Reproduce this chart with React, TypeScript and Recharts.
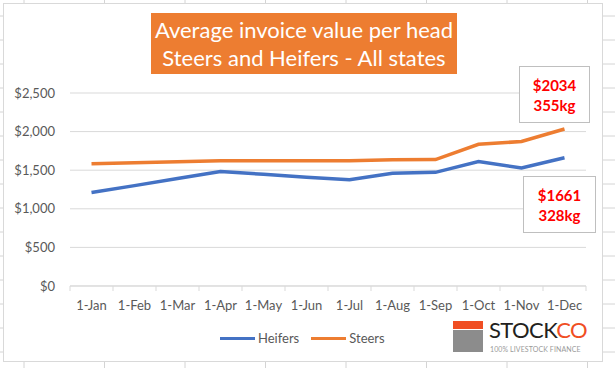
import { LineChart, Line, XAxis, YAxis, CartesianGrid } from 'recharts';

const months = ['1-Jan', '1-Feb', '1-Mar', '1-Apr', '1-May', '1-Jun', '1-Jul', '1-Aug', '1-Sep', '1-Oct', '1-Nov', '1-Dec'];
const heifers = [1211, 1300, 1392, 1483, 1446, 1410, 1376, 1460, 1472, 1612, 1530, 1661];
const steers = [1585, 1598, 1610, 1622, 1622, 1622, 1622, 1635, 1637, 1835, 1872, 2034];
const yTicks = [0, 500, 1000, 1500, 2000, 2500];

const steersNote = ['$2034', '355kg'];
const heifersNote = ['$1661', '328kg'];

const data = months.map((m, i) => ({ month: m, Heifers: heifers[i], Steers: steers[i] }));

const FONT = 'Lato, "Liberation Sans", sans-serif';
const GREY_TEXT = '#595959';
const GRID = '#D9D9D9';
const BLUE = '#4472C4';
const ORANGE = '#ED7D31';

const W = 615;
const H = 368;
const PLOT_LEFT = 70;
const PLOT_RIGHT = 586;
const PLOT_TOP = 93;
const PLOT_BOTTOM = 286;
const BAND = (PLOT_RIGHT - PLOT_LEFT) / months.length;

const fmt = (v: number) => '$' + v.toLocaleString('en-US');

const XTick = ({ x, payload, index }: any) => (
  <g>
    <line x1={x - BAND / 2} x2={x - BAND / 2} y1={PLOT_BOTTOM} y2={PLOT_BOTTOM + 5} stroke={GRID} />
    {index === months.length - 1 && (
      <line x1={x + BAND / 2} x2={x + BAND / 2} y1={PLOT_BOTTOM} y2={PLOT_BOTTOM + 5} stroke={GRID} />
    )}
    <text x={x} y={PLOT_BOTTOM + 24} textAnchor="middle" fill={GREY_TEXT} fontSize={13} fontFamily={FONT}>
      {payload.value}
    </text>
  </g>
);

const YTick = ({ y, payload }: any) => (
  <text x={55} y={y + 4.5} textAnchor="end" fill={GREY_TEXT} fontSize={13} fontFamily={FONT}>
    {fmt(payload.value)}
  </text>
);

const series = [
  { name: 'Heifers', color: BLUE },
  { name: 'Steers', color: ORANGE },
];

const NoteBox = ({ lines, left, top, width, height }: any) => (
  <div
    style={{
      position: 'absolute',
      left,
      top,
      width,
      height,
      boxSizing: 'border-box',
      border: '1px solid #BFBFBF',
      background: '#fff',
      color: '#FF0000',
      fontFamily: FONT,
      fontWeight: 700,
      fontSize: 15,
      lineHeight: '20px',
      display: 'flex',
      flexDirection: 'column',
      alignItems: 'center',
      justifyContent: 'center',
    }}
  >
    {lines.map((l: string) => (
      <div key={l}>{l}</div>
    ))}
  </div>
);

export default function App() {
  const sheetCols = Array.from({ length: 8 }, (_, i) => 24 + i * 80.5);
  const sheetRows = Array.from({ length: 15 }, (_, i) => 16 + i * 24);

  return (
    <div style={{ position: 'absolute', left: 0, top: 0, width: W, height: H, background: '#fff', overflow: 'hidden' }}>
      {/* spreadsheet cells behind the chart */}
      <svg width={W} height={H} style={{ position: 'absolute', left: 0, top: 0 }}>
        {sheetCols.map((x) => (
          <line key={'c' + x} x1={x} x2={x} y1={0} y2={H} stroke="#D4D4D4" />
        ))}
        {sheetRows.map((y) => (
          <line key={'r' + y} x1={0} x2={W} y1={y} y2={y} stroke="#D4D4D4" />
        ))}
      </svg>

      {/* chart frame */}
      <div
        style={{
          position: 'absolute',
          left: 3,
          top: 3,
          width: 600,
          height: 359,
          boxSizing: 'border-box',
          border: '1px solid #D9D9D9',
          background: '#fff',
        }}
      />

      <div style={{ position: 'absolute', left: 0, top: 0 }}>
        <LineChart width={W} height={H} data={data} margin={{ top: PLOT_TOP, right: W - PLOT_RIGHT, bottom: 0, left: 0 }}>
          <CartesianGrid vertical={false} stroke={GRID} />
          <XAxis
            dataKey="month"
            scale="band"
            height={H - PLOT_BOTTOM}
            axisLine={{ stroke: GRID }}
            tickLine={false}
            tick={<XTick />}
            interval={0}
          />
          <YAxis
            width={PLOT_LEFT}
            domain={[0, 2500]}
            ticks={yTicks}
            axisLine={false}
            tickLine={false}
            tick={<YTick />}
          />
          <Line type="linear" dataKey="Heifers" stroke={BLUE} strokeWidth={3.5} dot={false} isAnimationActive={false} />
          <Line type="linear" dataKey="Steers" stroke={ORANGE} strokeWidth={3.5} dot={false} isAnimationActive={false} />
        </LineChart>
      </div>

      {/* legend */}
      <div
        style={{
          position: 'absolute',
          left: 220,
          top: 329,
          display: 'flex',
          gap: 12,
          fontFamily: FONT,
          fontSize: 13,
          lineHeight: '18px',
          color: GREY_TEXT,
        }}
      >
        {series.map((s) => (
          <div key={s.name} style={{ display: 'flex', alignItems: 'center' }}>
            <span style={{ display: 'inline-block', width: 35, height: 3, background: s.color, marginRight: 3 }} />
            {s.name}
          </div>
        ))}
      </div>

      {/* title */}
      <div
        style={{
          position: 'absolute',
          left: 151,
          top: 13,
          width: 306,
          height: 61,
          background: ORANGE,
          color: '#fff',
          fontFamily: FONT,
          fontSize: 22,
          lineHeight: '28px',
          textAlign: 'center',
          display: 'flex',
          flexDirection: 'column',
          justifyContent: 'center',
        }}
      >
        <div>Average invoice value per head</div>
        <div>Steers and Heifers - All states</div>
      </div>

      <NoteBox lines={steersNote} left={519} top={66} width={71} height={57} />
      <NoteBox lines={heifersNote} left={523} top={176} width={73} height={57} />

      {/* StockCo logo */}
      <div style={{ position: 'absolute', left: 453, top: 321, width: 30, height: 8, background: '#F04E23' }} />
      <div style={{ position: 'absolute', left: 453, top: 330, width: 30, height: 22, background: '#8C8C8C' }} />
      <div
        style={{
          position: 'absolute',
          left: 489,
          top: 317,
          fontFamily: FONT,
          fontSize: 22,
          lineHeight: '26px',
          letterSpacing: -0.6,
          color: '#231F20',
          whiteSpace: 'nowrap',
        }}
      >
        STOCK<span style={{ color: '#F04E23' }}>CO</span>
      </div>
      <div
        style={{
          position: 'absolute',
          left: 490,
          top: 345,
          fontFamily: FONT,
          fontSize: 7,
          lineHeight: '9px',
          letterSpacing: 0.1,
          color: '#9A9A9A',
          whiteSpace: 'nowrap',
        }}
      >
        100% LIVESTOCK FINANCE
      </div>
    </div>
  );
}
